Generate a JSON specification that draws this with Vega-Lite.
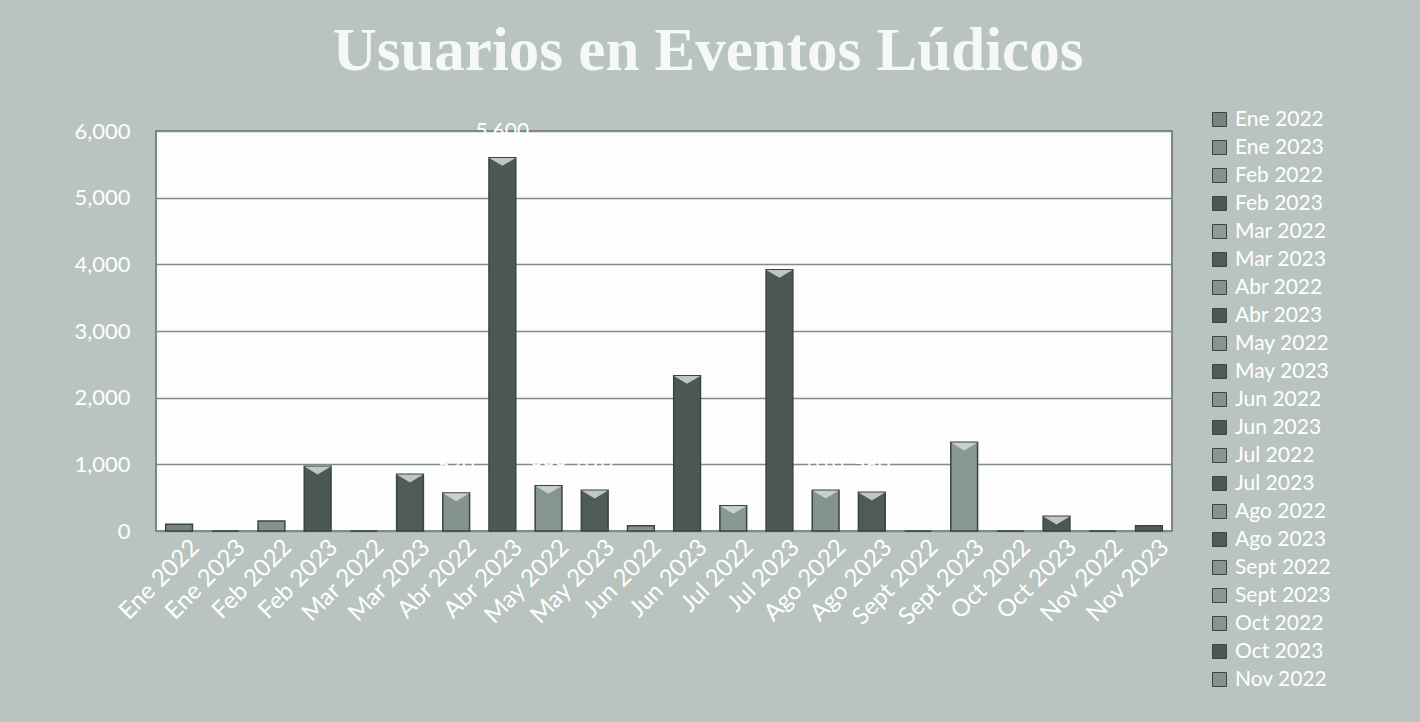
{
  "$schema": "https://vega.github.io/schema/vega-lite/v6.json",
  "width": 1016,
  "height": 400,
  "autosize": {"type": "none"},
  "padding": {"left": 156, "top": 131, "right": 248, "bottom": 191},
  "background": "#b9c3c0",
  "title": {
    "text": "Usuarios en Eventos Lúdicos",
    "font": "Liberation Serif",
    "fontSize": 61,
    "fontWeight": "bold",
    "color": "#f6f8f7",
    "anchor": "middle",
    "dx": 44,
    "offset": 26
  },
  "data": {
    "values": [
      {"mes": "Ene 2022", "usuarios": 100},
      {"mes": "Ene 2023", "usuarios": 0},
      {"mes": "Feb 2022", "usuarios": 150},
      {"mes": "Feb 2023", "usuarios": 970},
      {"mes": "Mar 2022", "usuarios": 0},
      {"mes": "Mar 2023", "usuarios": 850},
      {"mes": "Abr 2022", "usuarios": 570},
      {"mes": "Abr 2023", "usuarios": 5600},
      {"mes": "May 2022", "usuarios": 680},
      {"mes": "May 2023", "usuarios": 610},
      {"mes": "Jun 2022", "usuarios": 80},
      {"mes": "Jun 2023", "usuarios": 2330},
      {"mes": "Jul 2022", "usuarios": 380},
      {"mes": "Jul 2023", "usuarios": 3920},
      {"mes": "Ago 2022", "usuarios": 610},
      {"mes": "Ago 2023", "usuarios": 580},
      {"mes": "Sept 2022", "usuarios": 0},
      {"mes": "Sept 2023", "usuarios": 1330},
      {"mes": "Oct 2022", "usuarios": 0},
      {"mes": "Oct 2023", "usuarios": 220},
      {"mes": "Nov 2022", "usuarios": 0},
      {"mes": "Nov 2023", "usuarios": 80}
    ]
  },
  "encoding": {
    "x": {
      "field": "mes",
      "type": "nominal",
      "sort": null,
      "title": null,
      "scale": {"paddingInner": 0.42, "paddingOuter": 0.21},
      "axis": {
        "labelAngle": -45,
        "labelFont": "Lato",
        "labelFontSize": 24,
        "labelColor": "#ffffff",
        "labelPadding": 4,
        "labelOffset": 8,
        "domain": false,
        "ticks": false,
        "grid": false
      }
    },
    "y": {
      "field": "usuarios",
      "type": "quantitative",
      "title": null,
      "scale": {"domain": [0, 6000]},
      "axis": {
        "values": [0, 1000, 2000, 3000, 4000, 5000, 6000],
        "format": ",.0f",
        "labelFont": "Lato",
        "labelFontSize": 22,
        "labelColor": "#ffffff",
        "labelPadding": 26,
        "domain": false,
        "ticks": false,
        "grid": true,
        "gridColor": "#7f8c87",
        "gridWidth": 1.5
      }
    }
  },
  "layer": [
    {
      "mark": {"type": "bar", "stroke": "#3a4440", "strokeWidth": 1.5},
      "encoding": {
        "color": {
          "field": "mes",
          "type": "nominal",
          "sort": null,
          "scale": {
            "domain": ["Ene 2022", "Ene 2023", "Feb 2022", "Feb 2023", "Mar 2022", "Mar 2023", "Abr 2022", "Abr 2023", "May 2022", "May 2023", "Jun 2022", "Jun 2023", "Jul 2022", "Jul 2023", "Ago 2022", "Ago 2023", "Sept 2022", "Sept 2023", "Oct 2022", "Oct 2023", "Nov 2022", "Nov 2023"],
            "range": ["#75847e", "#7f8e88", "#84938d", "#4b5853", "#8d9b96", "#4e5b56", "#84938d", "#4b5853", "#86958f", "#4e5b56", "#84938d", "#4b5853", "#88978f", "#4b5853", "#84938d", "#4e5b56", "#86958f", "#8a9893", "#86958f", "#4b5853", "#84938d", "#4e5b56"]
          },
          "legend": {
            "title": null,
            "orient": "none",
            "legendX": 1053,
            "legendY": -22,
            "values": ["Ene 2022", "Ene 2023", "Feb 2022", "Feb 2023", "Mar 2022", "Mar 2023", "Abr 2022", "Abr 2023", "May 2022", "May 2023", "Jun 2022", "Jun 2023", "Jul 2022", "Jul 2023", "Ago 2022", "Ago 2023", "Sept 2022", "Sept 2023", "Oct 2022", "Oct 2023", "Nov 2022"],
            "symbolType": "square",
            "symbolSize": 196,
            "symbolStrokeColor": "#3a4440",
            "symbolStrokeWidth": 1,
            "labelFont": "Lato",
            "labelFontSize": 21,
            "labelColor": "#ffffff",
            "labelOffset": 5,
            "rowPadding": 6,
            "padding": 0
          }
        }
      }
    },
    {
      "transform": [{"filter": "datum.usuarios >= 200"}],
      "mark": {
        "type": "point",
        "shape": "M-1,-1L1,-1L0,-0.4Z",
        "size": 700,
        "filled": true,
        "fill": "#d3d9d7",
        "opacity": 0.85,
        "strokeWidth": 0,
        "yOffset": 13.5
      },
      "encoding": {}
    },
    {
      "mark": {"type": "text", "font": "Lato", "fontSize": 21, "color": "#ffffff", "dy": -20, "baseline": "alphabetic"},
      "encoding": {
        "text": {"field": "usuarios", "type": "quantitative", "format": ","}
      }
    }
  ],
  "config": {
    "view": {"fill": "#fdfdfd", "stroke": "#7b8883", "strokeWidth": 2}
  }
}
